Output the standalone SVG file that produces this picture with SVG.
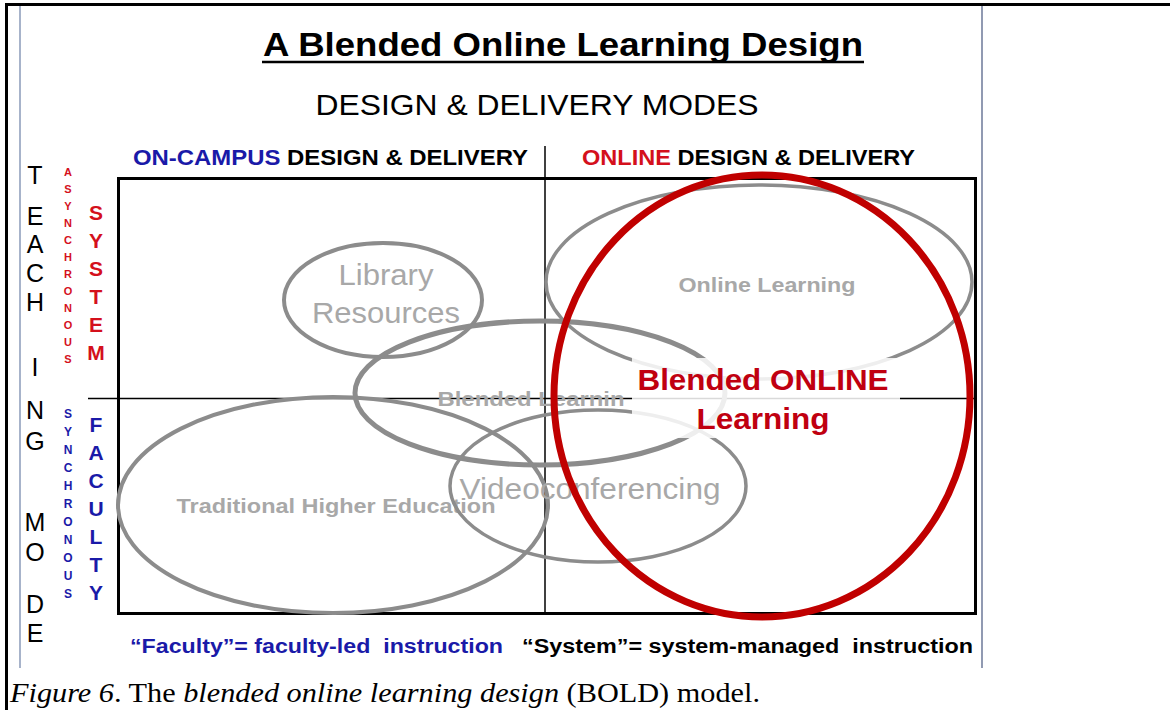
<svg xmlns="http://www.w3.org/2000/svg" width="1170" height="710" viewBox="0 0 1170 710">
<style>
.ell{fill:none;stroke:#8c8c8c}
.lbl{font-family:"Liberation Sans",Arial,sans-serif;fill:#a8a8a8;text-anchor:middle}
.b{font-weight:bold}
.side{font-family:"Liberation Sans",Arial,sans-serif;text-anchor:middle}
.hdr{font-family:"Liberation Sans",Arial,sans-serif;font-weight:bold;font-size:22px}
.leg{font-family:"Liberation Sans",Arial,sans-serif;font-weight:bold;font-size:20px}
.red{font-family:"Liberation Sans",Arial,sans-serif;font-weight:bold;fill:#c00010;text-anchor:middle}
</style>
<rect x="0" y="0" width="1170" height="710" fill="#fff"/>
<line x1="5" y1="4.5" x2="1170" y2="4.5" stroke="#000" stroke-width="3"/>
<line x1="6.5" y1="3" x2="6.5" y2="710" stroke="#000" stroke-width="3"/>
<line x1="20" y1="6" x2="20" y2="668" stroke="#8a9ab8" stroke-width="1.5"/>
<line x1="982" y1="6" x2="982" y2="668" stroke="#6c7898" stroke-width="1.5"/>

<g id="title">
<text x="563" y="56" font-family="Liberation Sans,Arial,sans-serif" font-weight="bold" font-size="34" text-anchor="middle" textLength="600" lengthAdjust="spacingAndGlyphs">A Blended Online Learning Design</text>
<line x1="262" y1="62" x2="864" y2="62" stroke="#000" stroke-width="2.5"/>
<text x="537" y="115" font-family="Liberation Sans,Arial,sans-serif" font-size="30" text-anchor="middle" textLength="443" lengthAdjust="spacingAndGlyphs">DESIGN &amp; DELIVERY MODES</text>
</g>

<g id="headers">
<text x="133" y="165" class="hdr" textLength="395" lengthAdjust="spacingAndGlyphs"><tspan fill="#1a1aa8">ON-CAMPUS</tspan> DESIGN &amp; DELIVERY</text>
<text x="582" y="165" class="hdr" textLength="333" lengthAdjust="spacingAndGlyphs"><tspan fill="#d4101c">ONLINE</tspan> DESIGN &amp; DELIVERY</text>
</g>

<g id="frame">
<rect x="118.5" y="178.5" width="857" height="435" fill="none" stroke="#000" stroke-width="3"/>
<line x1="545" y1="146" x2="545" y2="613" stroke="#000" stroke-width="1.5"/>
<line x1="88" y1="398.5" x2="975" y2="398.5" stroke="#000" stroke-width="1.5"/>
</g>

<g id="library-resources">
<ellipse class="ell" cx="383" cy="300" rx="99" ry="57" stroke-width="4"/>
<text class="lbl" x="386" y="285" font-size="30" textLength="95" lengthAdjust="spacingAndGlyphs">Library</text>
<text class="lbl" x="386" y="323" font-size="30" textLength="148" lengthAdjust="spacingAndGlyphs">Resources</text>
</g>

<g id="online-learning">
<ellipse class="ell" cx="759" cy="282" rx="213" ry="97" stroke-width="3.5" stroke="#9a9a9a"/>
<text class="lbl b" x="767" y="292" font-size="20" textLength="177" lengthAdjust="spacingAndGlyphs">Online Learning</text>
</g>

<g id="traditional-higher-education">
<ellipse class="ell" cx="333" cy="505" rx="215" ry="108" stroke-width="4"/>
<text class="lbl b" x="336" y="513" font-size="21" textLength="319" lengthAdjust="spacingAndGlyphs">Traditional Higher Education</text>
</g>

<g id="videoconferencing">
<ellipse class="ell" cx="598" cy="486" rx="148" ry="76" stroke-width="3.5" stroke="#999"/>
<text class="lbl" x="590" y="499" font-size="30" textLength="261" lengthAdjust="spacingAndGlyphs">Videoconferencing</text>
</g>

<g id="blended-learning">
<ellipse class="ell" cx="540" cy="393" rx="185" ry="72" stroke-width="5"/>
<text class="lbl b" x="531" y="406" font-size="20" fill="#b4b4b4" textLength="187" lengthAdjust="spacingAndGlyphs">Blended Learnin</text>
</g>

<g id="blended-online-learning">
<ellipse cx="762" cy="396" rx="208" ry="221" fill="none" stroke="#c00000" stroke-width="7"/>
<rect x="632" y="358" width="268" height="80" fill="#fff" opacity="0.85"/>
<text class="red" x="763" y="390" font-size="29" textLength="251" lengthAdjust="spacingAndGlyphs">Blended ONLINE</text>
<text class="red" x="763" y="429" font-size="29" textLength="133" lengthAdjust="spacingAndGlyphs">Learning</text>
</g>

<g id="teaching-mode" class="side" font-size="25" fill="#000">
<text x="35" y="184">T</text>
<text x="35" y="225">E</text>
<text x="35" y="253">A</text>
<text x="35" y="282">C</text>
<text x="35" y="311">H</text>
<text x="35" y="376">I</text>
<text x="35" y="419">N</text>
<text x="35" y="450">G</text>
<text x="35" y="531">M</text>
<text x="35" y="561">O</text>
<text x="35" y="613">D</text>
<text x="35" y="642">E</text>
</g>

<g id="asynchronous" class="side b" font-size="11" fill="#d4101c">
<text x="68" y="176">A</text><text x="68" y="193">S</text><text x="68" y="210">Y</text><text x="68" y="227">N</text><text x="68" y="244">C</text><text x="68" y="261">H</text><text x="68" y="278">R</text><text x="68" y="295">O</text><text x="68" y="312">N</text><text x="68" y="329">O</text><text x="68" y="346">U</text><text x="68" y="363">S</text>
</g>
<g id="synchronous" class="side b" font-size="12" fill="#1a1aa8">
<text x="68" y="418">S</text><text x="68" y="436">Y</text><text x="68" y="454">N</text><text x="68" y="472">C</text><text x="68" y="490">H</text><text x="68" y="508">R</text><text x="68" y="526">O</text><text x="68" y="544">N</text><text x="68" y="562">O</text><text x="68" y="580">U</text><text x="68" y="598">S</text>
</g>
<g id="system" class="side b" font-size="21" fill="#d4101c">
<text x="96" y="220">S</text><text x="96" y="248">Y</text><text x="96" y="276">S</text><text x="96" y="304">T</text><text x="96" y="332">E</text><text x="96" y="360">M</text>
</g>
<g id="faculty" class="side b" font-size="21" fill="#1a1aa8">
<text x="96" y="432">F</text><text x="96" y="460">A</text><text x="96" y="488">C</text><text x="96" y="516">U</text><text x="96" y="544">L</text><text x="96" y="572">T</text><text x="96" y="600">Y</text>
</g>

<g id="legend">
<text x="130" y="653" class="leg" fill="#1a1aa8" textLength="373" lengthAdjust="spacingAndGlyphs" xml:space="preserve">“Faculty”= faculty-led  instruction</text>
<text x="522" y="653" class="leg" fill="#000" textLength="451" lengthAdjust="spacingAndGlyphs" xml:space="preserve">“System”= system-managed  instruction</text>
</g>

<text x="10" y="702" font-family="Liberation Serif,'Times New Roman',serif" font-size="27" textLength="750" lengthAdjust="spacingAndGlyphs"><tspan font-style="italic">Figure 6</tspan>. The <tspan font-style="italic">blended online learning design</tspan> (BOLD) model.</text>
</svg>
